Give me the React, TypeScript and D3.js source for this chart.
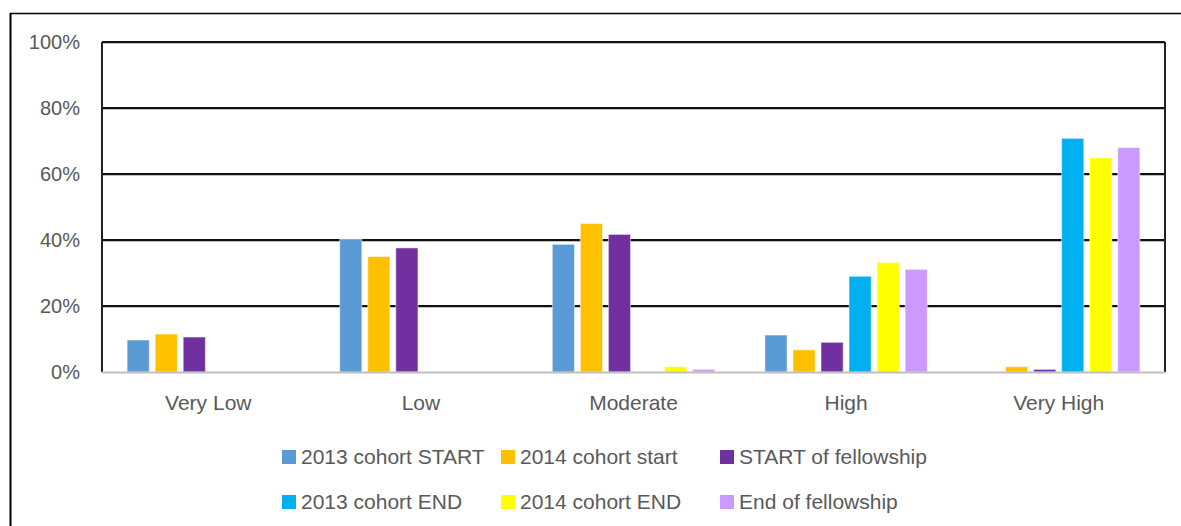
import { useEffect, useRef } from "react";
import * as d3 from "d3";

const categories = ["Very Low", "Low", "Moderate", "High", "Very High"];

const seriesNames = [
  "2013 cohort START",
  "2014 cohort start",
  "START of fellowship",
  "2013 cohort END",
  "2014 cohort END",
  "End of fellowship",
];

const seriesColors = ["#5B9BD5", "#FFC000", "#7030A0", "#00B0F0", "#FFFF00", "#CC99FF"];

// values in %, one array per series, ordered as categories
const cohort2013Start = [9.7, 40.2, 38.7, 11.2, 0];
const cohort2014Start = [11.5, 35, 45, 6.7, 1.6];
const startOfFellowship = [10.6, 37.6, 41.7, 9, 0.8];
const cohort2013End = [0, 0, 0, 29, 70.8];
const cohort2014End = [0, 0, 1.6, 33.2, 64.9];
const endOfFellowship = [0, 0, 0.8, 31.1, 68];

const seriesValues = [
  cohort2013Start,
  cohort2014Start,
  startOfFellowship,
  cohort2013End,
  cohort2014End,
  endOfFellowship,
];

const yTicks = [0, 20, 40, 60, 80, 100];

const W = 1181;
const H = 526;
const FONT = "'Liberation Sans', Arial, sans-serif";

export default function App() {
  const svgRef = useRef<SVGSVGElement>(null);

  useEffect(() => {
    const svg = d3.select(svgRef.current);
    svg.selectAll("*").remove();

    const margin = { top: 42, right: 16, bottom: 154, left: 102 };
    const width = W - margin.left - margin.right;
    const height = H - margin.top - margin.bottom;

    // outer frame (only top and left visible in the crop)
    svg.append("line")
      .attr("x1", 10).attr("x2", W).attr("y1", 13.5).attr("y2", 13.5)
      .attr("stroke", "#000").attr("stroke-width", 1.5);
    svg.append("line")
      .attr("x1", 10.5).attr("x2", 10.5).attr("y1", 13).attr("y2", H)
      .attr("stroke", "#000").attr("stroke-width", 2);

    const g = svg.append("g").attr("transform", `translate(${margin.left},${margin.top})`);

    const x0 = d3.scaleBand<string>().domain(categories).range([0, width]).paddingInner(0).paddingOuter(0);
    const groupWidth = 168;
    const x1 = d3.scaleBand<number>()
      .domain(d3.range(seriesNames.length))
      .range([(x0.bandwidth() - groupWidth) / 2, (x0.bandwidth() + groupWidth) / 2])
      .paddingInner(0.21)
      .paddingOuter(0.1);
    const y = d3.scaleLinear().domain([0, 100]).range([height, 0]);

    // gridlines
    yTicks.filter((t) => t > 0).forEach((t) => {
      g.append("line")
        .attr("x1", 0).attr("x2", width)
        .attr("y1", y(t) + 1.5).attr("y2", y(t) + 1.5)
        .attr("stroke", "#bfbfbf").attr("stroke-width", 1);
      g.append("line")
        .attr("x1", 0).attr("x2", width)
        .attr("y1", y(t)).attr("y2", y(t))
        .attr("stroke", "#111").attr("stroke-width", 2);
    });

    // side lines
    g.append("line")
      .attr("x1", 0).attr("x2", 0).attr("y1", 0).attr("y2", height)
      .attr("stroke", "#222").attr("stroke-width", 2);
    g.append("line")
      .attr("x1", width).attr("x2", width).attr("y1", 0).attr("y2", height)
      .attr("stroke", "#222").attr("stroke-width", 2);

    // bars
    categories.forEach((cat, ci) => {
      const cg = g.append("g").attr("transform", `translate(${x0(cat)},0)`);
      seriesValues.forEach((vals, si) => {
        const v = vals[ci];
        if (v <= 0) return;
        cg.append("rect")
          .attr("x", x1(si)!)
          .attr("y", y(v))
          .attr("width", x1.bandwidth())
          .attr("height", height - y(v))
          .attr("fill", seriesColors[si])
          .attr("stroke", "#ffffff")
          .attr("stroke-opacity", 0.5)
          .attr("stroke-width", 1);
      });
    });

    // baseline
    g.append("line")
      .attr("x1", 0).attr("x2", width).attr("y1", height + 0.5).attr("y2", height + 0.5)
      .attr("stroke", "#bfbfbf").attr("stroke-width", 2);

    // y labels
    yTicks.forEach((t) => {
      g.append("text")
        .attr("x", -22)
        .attr("y", y(t))
        .attr("dy", "0.35em")
        .attr("text-anchor", "end")
        .attr("font-family", FONT)
        .attr("font-size", "20px")
        .attr("fill", "#595959")
        .text(`${t}%`);
    });

    // x labels
    categories.forEach((cat) => {
      g.append("text")
        .attr("x", x0(cat)! + x0.bandwidth() / 2)
        .attr("y", height + 38)
        .attr("text-anchor", "middle")
        .attr("font-family", FONT)
        .attr("font-size", "21px")
        .attr("fill", "#595959")
        .text(cat);
    });

    // legend
    const legendX = [282, 501, 720];
    const legendY = [457, 502];
    seriesNames.forEach((name, i) => {
      const lx = legendX[i % 3];
      const ly = legendY[Math.floor(i / 3)];
      svg.append("rect")
        .attr("x", lx).attr("y", ly - 7)
        .attr("width", 14).attr("height", 14)
        .attr("fill", seriesColors[i]);
      svg.append("text")
        .attr("x", lx + 19)
        .attr("y", ly)
        .attr("dy", "0.35em")
        .attr("font-family", FONT)
        .attr("font-size", "21px")
        .attr("fill", "#595959")
        .text(name);
    });
  }, []);

  return (
    <div style={{ position: "absolute", left: 0, top: 0, width: W, height: H, background: "#fff" }}>
      <svg ref={svgRef} width={W} height={H} style={{ display: "block" }} />
    </div>
  );
}
